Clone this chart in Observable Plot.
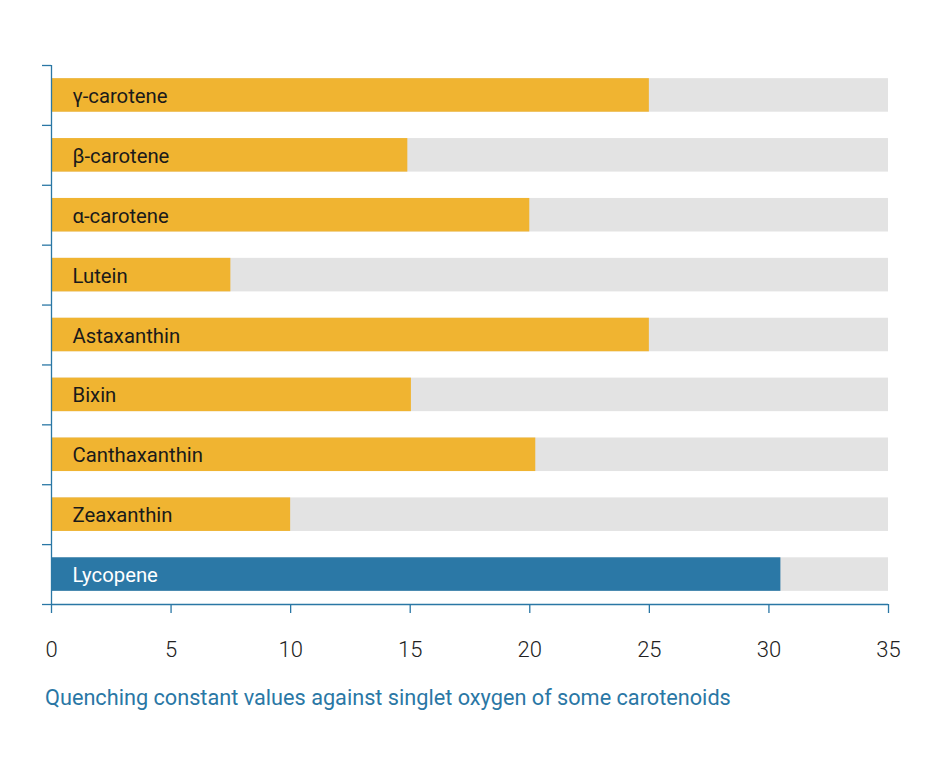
<!DOCTYPE html>
<html>
<head>
<meta charset="utf-8">
<script src="https://cdn.jsdelivr.net/npm/d3@7"></script>
<script src="https://cdn.jsdelivr.net/npm/@observablehq/plot@0.6"></script>
<style>
  html, body { margin: 0; padding: 0; background: #ffffff; }
  #chart { width: 940px; }
  .caption { font-family: Roboto, "Noto Sans", sans-serif; font-size: 21.7px; color: #2a77a5; margin: 17px 0 0 45px; line-height: 1.2; }
</style>
</head>
<body>
<div id="chart"></div>
<script>
const names = ["γ-carotene", "β-carotene", "α-carotene", "Lutein", "Astaxanthin", "Bixin", "Canthaxanthin", "Zeaxanthin", "Lycopene"];
const values = [25, 14.9, 20, 7.5, 25, 15.05, 20.25, 10, 30.5];
const highlight = ["Lycopene"];
const xTicks = [0, 5, 10, 15, 20, 25, 30, 35];
const axisMax = 35;
const captionText = "Quenching constant values against singlet oxygen of some carotenoids";

const data = names.map((n, i) => ({name: n, value: values[i], max: axisMax, hl: highlight.includes(n)}));

const axisColor = "#2a77a5";
const step = (604 - 65) / names.length;
const last = names[names.length - 1];

const plot = Plot.plot({
  width: 940,
  height: 668,
  marginLeft: 51,
  marginRight: 52,
  marginTop: 65,
  marginBottom: 64,
  style: {fontFamily: "Roboto, 'Noto Sans', sans-serif", background: "#ffffff"},
  x: {domain: [0, axisMax]},
  y: {domain: names, paddingInner: 0.44, paddingOuter: 0.22, round: false, axis: null},
  marks: [
    Plot.barX(data, {y: "name", x: "max", fill: "#e3e3e3"}),
    Plot.barX(data, {y: "name", x: "value", fill: d => d.hl ? "#2b78a6" : "#f0b431"}),
    Plot.text(data, {y: "name", x: 0, text: "name", textAnchor: "start", dx: 21, dy: 1, fontSize: 20.3, fontWeight: 400, fill: d => d.hl ? "#ffffff" : "#1a1a1a"}),
    Plot.ruleX([0], {stroke: axisColor, strokeWidth: 1.3}),
    Plot.ruleY([last], {y: d => d, x1: 0, x2: axisMax, dy: step / 2, stroke: axisColor, strokeWidth: 1.3}),
    Plot.axisY({tickSize: 9, text: null, label: null, stroke: axisColor, strokeWidth: 1.3, dy: -step / 2}),
    Plot.axisY([last], {tickSize: 9, text: null, label: null, stroke: axisColor, strokeWidth: 1.3, dy: step / 2}),
    Plot.axisX({ticks: xTicks, tickSize: 9, tickPadding: 28, label: null, stroke: axisColor, strokeWidth: 1.3, fill: "#222", fontSize: 22, fontWeight: 300})
  ]
});
document.getElementById("chart").appendChild(plot);
const cap = document.createElement("div");
cap.className = "caption";
cap.textContent = captionText;
document.getElementById("chart").appendChild(cap);
</script>
</body>
</html>
